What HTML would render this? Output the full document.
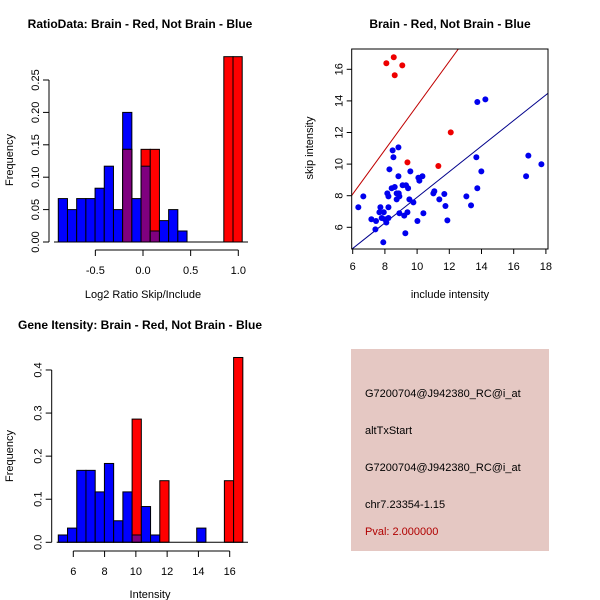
<!DOCTYPE html>
<html><head><meta charset="utf-8"><style>
body{margin:0;background:#fff}
svg{display:block;font-family:"Liberation Sans",sans-serif}
</style></head><body>
<svg id="s" width="600" height="600" xmlns="http://www.w3.org/2000/svg">
<text x="140" y="28" font-size="12" font-weight="bold" text-anchor="middle">RatioData: Brain - Red, Not Brain - Blue</text>
<text x="143" y="298" font-size="11" text-anchor="middle">Log2 Ratio Skip/Include</text>
<text transform="translate(13,160) rotate(-90)" font-size="11" text-anchor="middle">Frequency</text>
<text x="450" y="28" font-size="12" font-weight="bold" text-anchor="middle">Brain - Red, Not Brain - Blue</text>
<text x="450" y="298" font-size="11" text-anchor="middle">include intensity</text>
<text transform="translate(313,148) rotate(-90)" font-size="11" text-anchor="middle">skip intensity</text>
<text x="140" y="329" font-size="12" font-weight="bold" text-anchor="middle">Gene Itensity: Brain - Red, Not Brain - Blue</text>
<text x="150" y="598" font-size="11" text-anchor="middle">Intensity</text>
<text transform="translate(13,456) rotate(-90)" font-size="11" text-anchor="middle">Frequency</text>
<g>
<rect x="351" y="349" width="198" height="202" fill="#e5c8c3"/>
<text x="365" y="397" font-size="11">G7200704@J942380_RC@i_at</text>
<text x="365" y="434" font-size="11">altTxStart</text>
<text x="365" y="471" font-size="11">G7200704@J942380_RC@i_at</text>
<text x="365" y="508" font-size="11">chr7.23354-1.15</text>
<text x="365" y="535" font-size="11" fill="#b00000">Pval: 2.000000</text>
</g>
</svg>
<script>
// Ratio histogram data
const ratioBlue=[0.067,0.05,0.067,0.067,0.083,0.117,0.05,0.2,0.067,0.117,0.017,0.033,0.05,0.017,0,0,0,0,0,0];
const ratioRed=[0,0,0,0,0,0,0,0.143,0,0.143,0.143,0,0,0,0,0,0,0,0.286,0.286];
const ratioBreakStart=-0.889, ratioBinWidth=0.0965;
const ratioXTicks=[-0.5,0,0.5,1.0];
const ratioXLabels=["-0.5","0.0","0.5","1.0"];
const ratioYTicks=[0,0.05,0.1,0.15,0.2,0.25];
const ratioYLabels=["0.00","0.05","0.10","0.15","0.20","0.25"];
// Gene histogram data
const geneBlue=[0.017,0.033,0.167,0.167,0.117,0.183,0.05,0.117,0.017,0.083,0.017,0,0,0,0,0.033,0,0,0,0];
const geneRed=[0,0,0,0,0,0,0,0,0.286,0,0,0.143,0,0,0,0,0,0,0.143,0.429];
const geneBreakStart=5.04, geneBinWidth=0.59;
const geneXTicks=[6,8,10,12,14,16];
const geneYTicks=[0,0.1,0.2,0.3,0.4];
const geneYLabels=["0.0","0.1","0.2","0.3","0.4"];
// Scatter data
const blueX=[6.35,6.66,7.16,7.45,7.41,7.66,7.72,7.8,7.93,7.9,8.0,8.09,8.15,8.22,8.22,8.22,8.28,8.42,8.48,8.53,8.61,8.73,8.73,8.84,8.84,8.86,8.9,8.9,9.1,9.2,9.27,9.31,9.4,9.44,9.52,9.58,9.77,10.02,10.08,10.14,10.33,10.39,11.01,11.07,11.38,11.69,11.76,11.88,13.06,13.35,13.68,13.74,13.74,13.99,14.24,16.77,16.91,17.72];
const blueY=[7.27,7.96,6.51,6.4,5.87,6.95,7.27,6.59,6.95,5.05,6.51,6.3,8.15,7.96,7.27,6.59,9.67,8.47,10.87,10.43,8.55,8.15,7.77,11.06,9.23,8.15,7.96,6.89,8.66,6.74,5.62,8.66,6.95,8.47,7.77,9.54,7.58,6.4,9.14,8.95,9.23,6.89,8.15,8.28,7.77,8.11,7.35,6.44,7.96,7.39,10.43,13.93,8.47,9.54,14.1,9.23,10.54,9.99];
const redX=[8.09,8.55,9.08,8.61,9.4,11.32,12.09];
const redY=[16.38,16.76,16.25,15.62,10.11,9.88,12.01];
const lineIntercepts=[-0.3,-0.2];
const lineSlopes=[1.4,0.81];
const scatterXTicks=[6,8,10,12,14,16,18];
const scatterYTicks=[6,8,10,12,14,16];

const NS="http://www.w3.org/2000/svg", svg=document.getElementById('s');
function mk(tag,attrs){const e=document.createElementNS(NS,tag);for(const k in attrs)e.setAttribute(k,attrs[k]);svg.appendChild(e);return e;}

function hist(o){
  const sx=v=>o.x0+(v-o.v0)*o.kx, sy=v=>o.y0-v*o.ky;
  for(let i=0;i<o.blue.length;i++){
    const a=o.bs+i*o.bw,b=a+o.bw,x=sx(a),w=sx(b)-x;
    const bl=o.blue[i],rd=o.red[i];
    if(bl>0){const r=mk('rect',{x:x,y:sy(bl),width:w,height:sy(0)-sy(bl),fill:'#0000ff',stroke:'#000','stroke-width':1});
      
      }
    if(rd>0){const r=mk('rect',{x:x,y:sy(rd),width:w,height:sy(0)-sy(rd),fill:'#ff0000',stroke:'#000','stroke-width':1});
      
      }
    if(bl>0&&rd>0){const m=Math.min(bl,rd);const r=mk('rect',{x:x,y:sy(m),width:w,height:sy(0)-sy(m),fill:'#7f007f',stroke:'#000','stroke-width':1});
      
      }
  }
  const ya=mk('line',{x1:o.ax,x2:o.ax,y1:sy(o.yt[0]),y2:sy(o.yt[o.yt.length-1]),stroke:'#000'});
  
  
  o.yt.forEach((t,i)=>{mk('line',{x1:o.ax-6,x2:o.ax,y1:sy(t),y2:sy(t),stroke:'#000'});
    const tx=mk('text',{transform:`translate(${o.ax-10},${sy(t)}) rotate(-90)`,'font-size':11,'text-anchor':'middle'});tx.textContent=o.yl[i];
    
    });
  const xa=mk('line',{x1:sx(o.xt[0]),x2:sx(o.xt[o.xt.length-1]),y1:o.ay,y2:o.ay,stroke:'#000'});
  
  
  o.xt.forEach((t,i)=>{mk('line',{x1:sx(t),x2:sx(t),y1:o.ay,y2:o.ay+6,stroke:'#000'});
    const tx=mk('text',{x:sx(t),y:o.ay+24,'font-size':11,'text-anchor':'middle'});tx.textContent=o.xl[i];
    
    });
  mk('line',{x1:o.ax+5,x2:o.xend,y1:sy(0),y2:sy(0),stroke:'#000'});
}
hist({p:'ratio',blue:ratioBlue,red:ratioRed,bs:ratioBreakStart,bw:ratioBinWidth,x0:143,v0:0,kx:95.3,y0:242,ky:648,
  xt:ratioXTicks,xl:ratioXLabels,yt:ratioYTicks,yl:ratioYLabels,ax:49,ay:250,xend:248});
hist({p:'gene',blue:geneBlue,red:geneRed,bs:geneBreakStart,bw:geneBinWidth,x0:73.3,v0:6,kx:15.64,y0:542.3,ky:430.8,
  xt:geneXTicks,xl:geneXTicks.map(String),yt:geneYTicks,yl:geneYLabels,ax:51.7,ay:551,xend:248});

// scatter
const L=351.7,R=548,T=49,B=249;
const px=v=>352.7+(v-6)*16.1, py=v=>227.3-(v-6)*15.8;
const cp=mk('clipPath',{id:'cl'});const cr=document.createElementNS(NS,'rect');
cr.setAttribute('x',L);cr.setAttribute('y',T);cr.setAttribute('width',R-L);cr.setAttribute('height',B-T);cp.appendChild(cr);
const lc=['#c00000','#00008b'];
lineSlopes.forEach((b,i)=>{const a=lineIntercepts[i];
  const l=mk('line',{x1:px(5.5),y1:py(a+b*5.5),x2:px(18.5),y2:py(a+b*18.5),stroke:lc[i],'clip-path':'url(#cl)'});
  
  });
blueX.forEach((x,i)=>{const c=mk('circle',{cx:px(x),cy:py(blueY[i]),r:3,fill:'#0000ee'});
  
  });
redX.forEach((x,i)=>{const c=mk('circle',{cx:px(x),cy:py(redY[i]),r:3,fill:'#ee0000'});
  
  });
const box=mk('rect',{x:L,y:T,width:R-L,height:B-T,fill:'none',stroke:'#000'});


scatterXTicks.forEach(t=>{mk('line',{x1:px(t),x2:px(t),y1:B,y2:B+5,stroke:'#000'});
  const tx=mk('text',{x:px(t),y:B+21,'font-size':11,'text-anchor':'middle'});tx.textContent=t;
  
  });
scatterYTicks.forEach(t=>{mk('line',{x1:L-5,x2:L,y1:py(t),y2:py(t),stroke:'#000'});
  const tx=mk('text',{transform:`translate(${L-9},${py(t)}) rotate(-90)`,'font-size':11,'text-anchor':'middle'});tx.textContent=t;
  
  });
</script>
</body></html>
